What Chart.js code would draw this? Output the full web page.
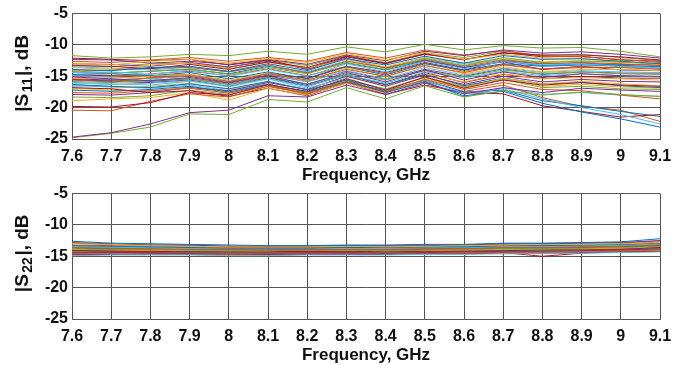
<!DOCTYPE html>
<html>
<head>
<meta charset="utf-8">
<script src="https://cdn.jsdelivr.net/npm/chart.js@4.4.1/dist/chart.umd.min.js"></script>
<style>
  html, body { margin: 0; padding: 0; background: #fff; overflow: hidden; }
  #wrap { position: relative; width: 686px; height: 365px; }
  canvas { position: absolute; left: 0; }
</style>
</head>
<body>
<div id="wrap">
  <canvas id="s11Chart" width="686" height="186" style="top:0"></canvas>
  <canvas id="s22Chart" width="686" height="186" style="top:180px"></canvas>
</div>
<script>
// frequency points, GHz
const freqLabels = ['7.6','7.7','7.8','7.9','8','8.1','8.2','8.3','8.4','8.5','8.6','8.7','8.8','8.9','9','9.1'];
const yTicks = [-25, -20, -15, -10, -5];

// |S11|, dB  (one row per measured sample)
const s11 = [
  [-13.9,-14.1,-13.6,-13.4,-14.2,-13.0,-14.1,-12.2,-13.2,-11.8,-12.9,-11.7,-12.3,-12.2,-12.6,-13.0],
  [-15.6,-15.9,-15.2,-14.9,-15.9,-14.6,-15.6,-13.9,-15.0,-13.3,-14.4,-13.2,-13.8,-13.5,-13.6,-13.9],
  [-12.9,-13.2,-12.6,-12.3,-12.9,-12.2,-12.8,-11.4,-12.4,-11.2,-12.3,-11.5,-12.1,-12.2,-12.6,-13.1],
  [-24.7,-24.0,-22.6,-20.8,-20.4,-18.1,-18.3,-16.4,-17.9,-16.1,-17.8,-16.8,-17.6,-16.9,-17.2,-17.4],
  [-24.8,-24.1,-23.1,-21.0,-21.1,-18.7,-19.1,-16.8,-18.6,-16.5,-18.3,-17.3,-18.0,-17.5,-17.9,-18.2],
  [-14.4,-14.3,-14.7,-14.0,-15.0,-13.9,-15.0,-13.0,-14.3,-12.6,-13.8,-12.6,-13.2,-13.0,-13.4,-13.6],
  [-19.8,-19.9,-19.2,-17.6,-18.0,-16.3,-17.4,-15.4,-17.2,-15.1,-16.9,-15.6,-16.4,-16.0,-16.4,-16.6],
  [-16.3,-16.6,-16.8,-16.2,-17.0,-15.8,-17.2,-15.6,-17.6,-15.9,-18.1,-17.4,-19.3,-20.7,-21.8,-23.1],
  [-20.4,-20.5,-19.0,-17.8,-18.3,-16.6,-17.8,-15.8,-17.4,-15.5,-17.1,-16.0,-17.1,-17.3,-18.0,-18.6],
  [-18.9,-18.6,-18.4,-17.6,-18.8,-16.9,-18.0,-16.1,-17.7,-15.4,-16.9,-15.3,-16.2,-15.8,-16.2,-16.5],
  [-15.1,-15.4,-15.7,-15.2,-16.1,-14.9,-16.3,-14.4,-15.9,-14.0,-15.6,-14.3,-15.2,-14.6,-14.9,-15.0],
  [-11.7,-12.1,-11.9,-11.5,-11.7,-11.0,-11.5,-10.3,-11.1,-9.9,-10.8,-10.1,-10.5,-10.4,-11.0,-11.9],
  [-16.0,-16.2,-16.4,-15.8,-16.5,-15.4,-16.9,-15.3,-17.2,-15.6,-17.7,-17.0,-18.6,-20.0,-21.1,-22.6],
  [-16.8,-17.0,-17.6,-17.3,-18.2,-16.9,-18.1,-16.0,-17.9,-16.4,-17.6,-17.8,-19.7,-20.6,-21.5,-21.1],
  [-17.2,-17.4,-17.1,-16.6,-17.5,-16.3,-17.5,-15.9,-17.3,-15.6,-17.5,-17.2,-18.9,-19.7,-20.6,-21.4],
  [-17.6,-17.7,-17.3,-16.9,-17.7,-16.4,-17.9,-16.1,-17.5,-15.8,-17.4,-16.4,-18.4,-19.8,-20.4,-22.2],
  [-15.3,-15.3,-15.0,-14.7,-15.6,-14.5,-15.7,-13.7,-15.1,-13.2,-14.6,-13.5,-14.3,-13.9,-13.9,-14.1],
  [-12.3,-12.4,-12.9,-12.6,-13.1,-12.3,-13.1,-11.6,-12.5,-11.0,-11.7,-10.8,-11.3,-11.1,-11.5,-12.1],
  [-14.1,-14.5,-14.2,-13.8,-14.7,-13.6,-14.6,-12.8,-13.9,-12.2,-13.3,-12.0,-12.8,-12.6,-12.7,-13.0],
  [-16.6,-16.3,-16.1,-15.7,-16.7,-15.4,-16.6,-14.8,-16.1,-14.3,-15.3,-14.2,-14.9,-14.6,-14.9,-15.1],
  [-13.3,-13.4,-13.8,-13.1,-13.9,-12.7,-13.6,-11.8,-12.9,-11.5,-12.3,-11.3,-11.6,-11.6,-11.9,-12.4],
  [-14.7,-14.6,-14.9,-14.4,-15.4,-14.3,-15.4,-13.5,-14.8,-13.0,-14.0,-13.0,-13.4,-13.2,-13.3,-13.5],
  [-12.6,-12.8,-12.4,-12.0,-12.6,-12.0,-12.6,-11.2,-12.1,-10.8,-11.6,-10.9,-11.8,-11.9,-12.3,-12.8],
  [-13.6,-13.9,-13.2,-12.9,-13.8,-12.8,-13.7,-12.3,-13.5,-12.0,-12.9,-12.2,-12.7,-12.5,-12.8,-13.0],
  [-17.9,-18.0,-17.6,-16.8,-17.3,-16.0,-17.1,-15.0,-16.6,-14.8,-16.3,-15.0,-15.9,-15.5,-15.8,-15.9],
  [-16.1,-16.0,-15.6,-15.4,-16.3,-15.1,-16.2,-14.6,-15.6,-14.1,-15.1,-14.0,-14.6,-14.3,-14.6,-14.7],
  [-14.9,-15.1,-15.4,-14.9,-15.7,-14.6,-15.9,-14.1,-15.4,-13.6,-14.8,-13.7,-14.4,-14.1,-14.3,-14.4],
  [-12.1,-12.3,-12.5,-12.3,-13.2,-12.4,-13.8,-11.9,-13.0,-11.4,-12.4,-11.2,-11.9,-11.8,-12.4,-12.6],
  [-15.8,-15.6,-15.8,-15.4,-16.3,-15.1,-16.5,-14.7,-16.3,-14.7,-16.5,-15.3,-16.2,-16.0,-16.5,-16.8],
  [-14.2,-14.0,-13.7,-13.6,-14.3,-13.2,-14.5,-12.6,-13.6,-12.3,-13.4,-12.4,-13.0,-12.8,-13.0,-13.3],
  [-17.0,-16.9,-16.6,-16.1,-17.1,-15.9,-17.1,-15.0,-16.5,-14.6,-15.9,-14.6,-15.4,-15.2,-15.4,-15.6],
  [-13.0,-13.1,-13.4,-12.8,-13.5,-12.6,-13.9,-12.1,-13.7,-12.4,-13.6,-12.7,-13.9,-13.4,-14.0,-14.1],
  [-18.3,-18.4,-18.1,-17.2,-17.9,-16.6,-17.7,-15.6,-17.0,-15.2,-16.7,-15.5,-16.8,-16.6,-17.0,-17.1],
  [-13.5,-13.7,-14.0,-13.5,-14.3,-13.3,-14.3,-12.5,-13.7,-12.1,-13.1,-12.3,-12.9,-13.0,-13.5,-13.8],
  [-15.5,-15.8,-16.0,-15.6,-16.6,-15.2,-16.6,-14.8,-16.4,-14.4,-16.0,-14.7,-15.4,-15.0,-15.3,-15.3],
  [-14.4,-14.5,-14.2,-13.9,-14.6,-13.4,-14.4,-12.9,-14.0,-12.5,-13.6,-12.6,-13.3,-13.0,-13.1,-13.2],
  [-15.0,-15.1,-14.6,-14.2,-14.9,-13.8,-14.9,-13.4,-14.6,-12.9,-14.2,-13.1,-13.9,-13.6,-13.6,-13.7],
  [-16.9,-17.2,-17.4,-16.7,-17.6,-16.3,-17.6,-15.6,-17.1,-15.1,-16.6,-15.4,-16.6,-16.3,-16.7,-16.9],
  [-15.4,-15.6,-15.3,-15.0,-16.0,-14.8,-15.8,-14.2,-15.5,-13.9,-15.0,-13.8,-14.7,-14.3,-14.5,-14.5],
  [-13.2,-13.5,-13.0,-12.9,-13.6,-12.4,-13.3,-11.7,-12.8,-11.3,-12.0,-11.0,-11.7,-11.5,-12.0,-12.5],
  [-16.5,-16.7,-16.9,-16.4,-17.3,-16.2,-17.8,-15.9,-17.6,-15.8,-18.3,-16.8,-17.9,-17.6,-18.0,-18.2],
  [-14.8,-14.9,-15.0,-14.7,-15.8,-14.5,-15.3,-13.4,-14.4,-12.8,-14.0,-12.5,-13.0,-12.9,-13.3,-13.5]
];

// |S22|, dB
const s22 = [
  [-12.6,-12.9,-13.0,-13.1,-13.2,-13.3,-13.3,-13.2,-13.2,-13.1,-13.1,-12.9,-12.9,-12.8,-12.7,-12.2],
  [-13.6,-13.7,-13.8,-13.9,-13.9,-14.0,-14.0,-13.9,-13.9,-13.8,-13.8,-13.6,-13.6,-13.5,-13.4,-13.2],
  [-13.0,-13.1,-13.3,-13.4,-13.5,-13.5,-13.5,-13.4,-13.5,-13.4,-13.3,-13.2,-13.1,-13.1,-13.0,-12.8],
  [-14.4,-14.4,-14.4,-14.5,-14.5,-14.5,-14.4,-14.4,-14.5,-14.4,-14.3,-14.2,-14.2,-14.1,-14.0,-13.8],
  [-13.8,-13.9,-13.9,-14.0,-14.1,-14.1,-14.0,-14.0,-14.1,-14.0,-13.9,-13.8,-13.8,-13.7,-13.6,-13.4],
  [-14.9,-14.8,-14.8,-14.8,-14.9,-14.9,-14.8,-14.8,-14.8,-14.7,-14.7,-14.6,-14.6,-14.5,-14.4,-14.3],
  [-14.1,-14.2,-14.2,-14.3,-14.3,-14.3,-14.2,-14.2,-14.3,-14.2,-14.2,-14.1,-14.0,-14.0,-13.9,-13.6],
  [-13.3,-13.4,-13.5,-13.6,-13.7,-13.7,-13.7,-13.6,-13.6,-13.5,-13.5,-13.3,-13.3,-13.2,-13.1,-12.9],
  [-14.6,-14.6,-14.7,-14.7,-14.7,-14.6,-14.6,-14.5,-14.6,-14.5,-14.5,-14.4,-14.4,-14.3,-14.2,-14.0],
  [-13.9,-14.0,-14.1,-14.1,-14.2,-14.2,-14.1,-14.1,-14.2,-14.1,-14.0,-13.9,-13.9,-13.8,-13.7,-13.5],
  [-12.9,-13.1,-13.2,-13.2,-13.4,-13.4,-13.4,-13.3,-13.4,-13.3,-13.2,-13.0,-13.0,-12.9,-12.8,-12.5],
  [-14.3,-14.3,-14.3,-14.4,-14.4,-14.4,-14.3,-14.3,-14.4,-14.3,-14.3,-14.2,-14.3,-14.2,-14.1,-13.9],
  [-13.5,-13.6,-13.7,-13.8,-13.8,-13.8,-13.8,-13.7,-13.8,-13.7,-13.6,-13.5,-13.5,-13.4,-13.3,-13.1],
  [-14.7,-14.7,-14.6,-14.6,-14.7,-14.7,-14.6,-14.6,-14.6,-14.5,-14.5,-14.4,-15.0,-14.5,-14.3,-14.2],
  [-14.0,-14.1,-14.1,-14.2,-14.2,-14.2,-14.2,-14.1,-14.1,-14.0,-14.0,-13.8,-13.8,-13.7,-13.6,-13.3],
  [-13.2,-13.3,-13.4,-13.5,-13.6,-13.6,-13.6,-13.5,-13.6,-13.5,-13.4,-13.3,-13.2,-13.2,-13.1,-12.7],
  [-14.5,-14.5,-14.5,-14.5,-14.6,-14.6,-14.5,-14.5,-14.5,-14.4,-14.4,-14.3,-14.3,-14.2,-14.1,-14.0],
  [-13.7,-13.8,-13.8,-13.9,-14.0,-14.0,-13.9,-13.9,-13.9,-13.8,-13.7,-13.6,-13.6,-13.5,-13.4,-13.2],
  [-14.2,-14.2,-14.3,-14.3,-14.4,-14.4,-14.3,-14.3,-14.3,-14.2,-14.1,-14.0,-14.1,-14.0,-13.9,-13.7],
  [-13.4,-13.5,-13.6,-13.7,-13.8,-13.8,-13.7,-13.6,-13.7,-13.6,-13.5,-13.4,-13.4,-13.3,-13.2,-13.0],
  [-14.8,-14.7,-14.7,-14.7,-14.8,-14.8,-14.7,-14.7,-14.7,-14.6,-14.6,-14.5,-14.5,-14.4,-14.3,-14.2],
  [-13.9,-13.9,-14.0,-14.0,-14.1,-14.1,-14.1,-14.0,-14.0,-13.9,-13.9,-13.7,-13.7,-13.6,-13.5,-13.3],
  [-12.8,-13.0,-13.2,-13.3,-13.4,-13.4,-13.4,-13.3,-13.3,-13.2,-13.2,-13.1,-13.0,-12.9,-12.9,-12.5],
  [-14.3,-14.4,-14.4,-14.4,-14.5,-14.5,-14.4,-14.4,-14.4,-14.3,-14.2,-14.1,-14.1,-14.0,-13.9,-13.7],
  [-14.0,-14.1,-14.2,-14.2,-14.3,-14.3,-14.3,-14.2,-14.2,-14.1,-14.1,-13.9,-14.0,-13.8,-13.7,-13.5],
  [-13.6,-13.7,-13.8,-13.8,-13.9,-13.9,-13.9,-13.8,-13.8,-13.7,-13.7,-13.5,-13.5,-13.4,-13.3,-13.1],
  [-14.6,-14.5,-14.5,-14.6,-14.6,-14.6,-14.5,-14.5,-14.5,-14.4,-14.4,-14.3,-14.2,-14.2,-14.1,-13.9],
  [-14.1,-14.1,-14.2,-14.3,-14.3,-14.3,-14.2,-14.2,-14.2,-14.2,-14.1,-14.0,-14.0,-13.9,-13.8,-13.6]
];

// MATLAB default line colour order
const lineColors = ['#0072BD', '#D95319', '#EDB120', '#7E2F8E', '#77AC30', '#4DBEEE', '#A2142F'];

const fontFamily = "'Liberation Sans', Arial, sans-serif";
const textColor = '#111111';
const gridColor = '#555555';

// y-axis title with a real subscript: |S11|, dB
const subscriptTitle = {
  id: 'subscriptTitle',
  afterDraw(chart, args, opts) {
    const { ctx, chartArea } = chart;
    const big = 'bold 19px ' + fontFamily;
    const small = 'bold 14px ' + fontFamily;
    const parts = [
      { t: '|S', f: big, dy: 0, gap: 1.5 },
      { t: opts.sub, f: small, dy: 5, gap: 1.5 },
      { t: '|, dB', f: big, dy: 0, gap: 0 }
    ];
    ctx.save();
    let total = 0;
    parts.forEach(p => { ctx.font = p.f; p.w = ctx.measureText(p.t).width + p.gap; total += p.w; });
    ctx.translate(opts.x, (chartArea.top + chartArea.bottom) / 2 - 3);
    ctx.rotate(-Math.PI / 2);
    ctx.fillStyle = textColor;
    ctx.textBaseline = 'middle';
    let x = -total / 2;
    parts.forEach(p => { ctx.font = p.f; ctx.fillText(p.t, x, p.dy); x += p.w; });
    ctx.restore();
  }
};

function makeDatasets(rows) {
  return rows.map((row, i) => ({
    data: row,
    borderColor: lineColors[i % lineColors.length],
    borderWidth: 1,
    pointRadius: 0,
    tension: 0,
    fill: false
  }));
}

function makeChart(id, rows, sub) {
  return new Chart(document.getElementById(id), {
    type: 'line',
    data: { labels: freqLabels, datasets: makeDatasets(rows) },
    plugins: [subscriptTitle],
    options: {
      responsive: false,
      animation: false,
      devicePixelRatio: 1,
      layout: { padding: { top: 12, right: 26, left: 0, bottom: 0 } },
      plugins: {
        legend: { display: false },
        tooltip: { enabled: false },
        subscriptTitle: { sub: sub, x: 23 }
      },
      scales: {
        x: {
          type: 'category',
          offset: false,
          grid: { color: gridColor, lineWidth: 1, drawTicks: false, offset: false },
          border: { color: gridColor },
          ticks: { color: textColor, font: { family: fontFamily, size: 16, weight: 'bold' }, padding: 8, maxRotation: 0, autoSkip: false },
          title: { display: true, text: 'Frequency, GHz', color: textColor, font: { family: fontFamily, size: 17, weight: 'bold' }, padding: 0 },
          afterFit: s => { s.height = 47; }
        },
        y: {
          min: yTicks[0],
          max: yTicks[yTicks.length - 1],
          afterBuildTicks: s => { s.ticks = yTicks.map(v => ({ value: v })); },
          grid: { color: gridColor, lineWidth: 1, drawTicks: false },
          border: { color: gridColor },
          ticks: { color: textColor, font: { family: fontFamily, size: 16, weight: 'bold' }, padding: 4 },
          afterFit: s => { s.width = 72; }
        }
      }
    }
  });
}

makeChart('s11Chart', s11, '11');
makeChart('s22Chart', s22, '22');
</script>
</body>
</html>
